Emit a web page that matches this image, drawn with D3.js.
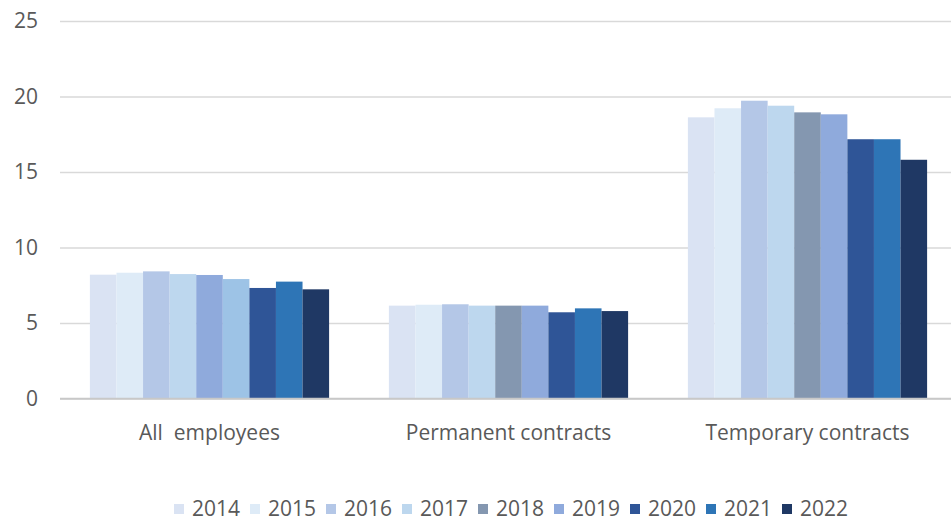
<!DOCTYPE html>
<html>
<head>
<meta charset="utf-8">
<script src="https://cdn.jsdelivr.net/npm/d3@7"></script>
<style>
  body { margin: 0; background: #fff; }
  svg { display: block; }
</style>
</head>
<body>
<svg id="viz"></svg>
<script>
var width = 951;
var height = 522;

// chart data
var categories = ["All  employees", "Permanent contracts", "Temporary contracts"];
var years = ["2014", "2015", "2016", "2017", "2018", "2019", "2020", "2021", "2022"];
var allEmployees = [8.2, 8.33, 8.42, 8.24, 8.18, 7.91, 7.32, 7.74, 7.23];
var permanent = [6.15, 6.21, 6.24, 6.15, 6.15, 6.15, 5.71, 5.97, 5.79];
var temporary = [18.62, 19.22, 19.72, 19.39, 18.95, 18.82, 17.17, 17.17, 15.81];
var yTicks = [0, 5, 10, 15, 20, 25];

// one colour per year; first group uses two other shades for 2018/2019 in the original
var colors = ["#DAE3F3", "#DEEBF7", "#B4C7E7", "#BDD7EE", "#8497B0", "#8FAADC", "#2F5597", "#2E75B6", "#1F3864"];
var firstGroupColors = ["#DAE3F3", "#DEEBF7", "#B4C7E7", "#BDD7EE", "#8FAADC", "#9DC3E6", "#2F5597", "#2E75B6", "#1F3864"];

var series = [allEmployees, permanent, temporary];

var textColor = "#595959";
var fontFamily = "'Open Sans', 'Liberation Sans', sans-serif";

var svg = d3.select("#viz").attr("width", width).attr("height", height);

var x0 = d3.scaleBand()
    .domain(categories)
    .range([60, 957])
    .paddingInner(0.2)
    .paddingOuter(0.1);

var x1 = d3.scaleBand()
    .domain(years)
    .range([0, x0.bandwidth()])
    .padding(0);

var y = d3.scaleLinear()
    .domain([0, 25])
    .range([398.5, 21]);

// gridlines + tick labels
var yAxis = d3.axisLeft(y)
    .tickValues(yTicks)
    .tickSize(-(width - 60))
    .tickPadding(22)
    .tickFormat(d3.format("d"));

var gy = svg.append("g")
    .attr("transform", "translate(60,0)")
    .call(yAxis);

gy.select(".domain").remove();
gy.selectAll(".tick line")
    .attr("stroke", function(d) { return d === 0 ? "#c8c8c8" : "#d9d9d9"; })
    .attr("stroke-width", function(d) { return d === 0 ? 1.6 : 1.3; });
gy.selectAll(".tick text")
    .attr("fill", textColor)
    .style("font-family", fontFamily)
    .style("font-size", "21px");

// bars
var groups = svg.append("g")
    .selectAll("g")
    .data(categories)
    .enter()
    .append("g")
    .attr("transform", function(d) { return "translate(" + x0(d) + ",0)"; });

groups.selectAll("rect")
    .data(function(d, i) {
        return years.map(function(yr, j) {
            return { year: yr, value: series[i][j], color: i === 0 ? firstGroupColors[j] : colors[j] };
        });
    })
    .enter()
    .append("rect")
    .attr("x", function(d) { return x1(d.year); })
    .attr("y", function(d) { return y(d.value); })
    .attr("width", x1.bandwidth())
    .attr("height", function(d) { return y(0) - y(d.value); })
    .attr("fill", function(d) { return d.color; });

// redraw baseline on top of the bars
svg.append("line")
    .attr("x1", 60).attr("x2", width)
    .attr("y1", y(0)).attr("y2", y(0))
    .attr("stroke", "#c8c8c8")
    .attr("stroke-width", 1.6);

// category labels
svg.append("g")
    .selectAll("text")
    .data(categories)
    .enter()
    .append("text")
    .attr("x", function(d) { return x0(d) + x0.bandwidth() / 2; })
    .attr("y", 440)
    .attr("text-anchor", "middle")
    .attr("fill", textColor)
    .style("font-family", fontFamily)
    .style("font-size", "21px")
    .style("white-space", "pre")
    .attr("xml:space", "preserve")
    .text(function(d) { return d; });

// legend
var legendStep = 76;
var legend = svg.append("g")
    .selectAll("g")
    .data(years)
    .enter()
    .append("g")
    .attr("transform", function(d, i) { return "translate(" + (174 + i * legendStep) + ",0)"; });

legend.append("rect")
    .attr("x", 0)
    .attr("y", 504)
    .attr("width", 10)
    .attr("height", 10)
    .attr("fill", function(d, i) { return colors[i]; });

legend.append("text")
    .attr("x", 18)
    .attr("y", 516)
    .attr("fill", textColor)
    .style("font-family", fontFamily)
    .style("font-size", "21px")
    .text(function(d) { return d; });
</script>
</body>
</html>
